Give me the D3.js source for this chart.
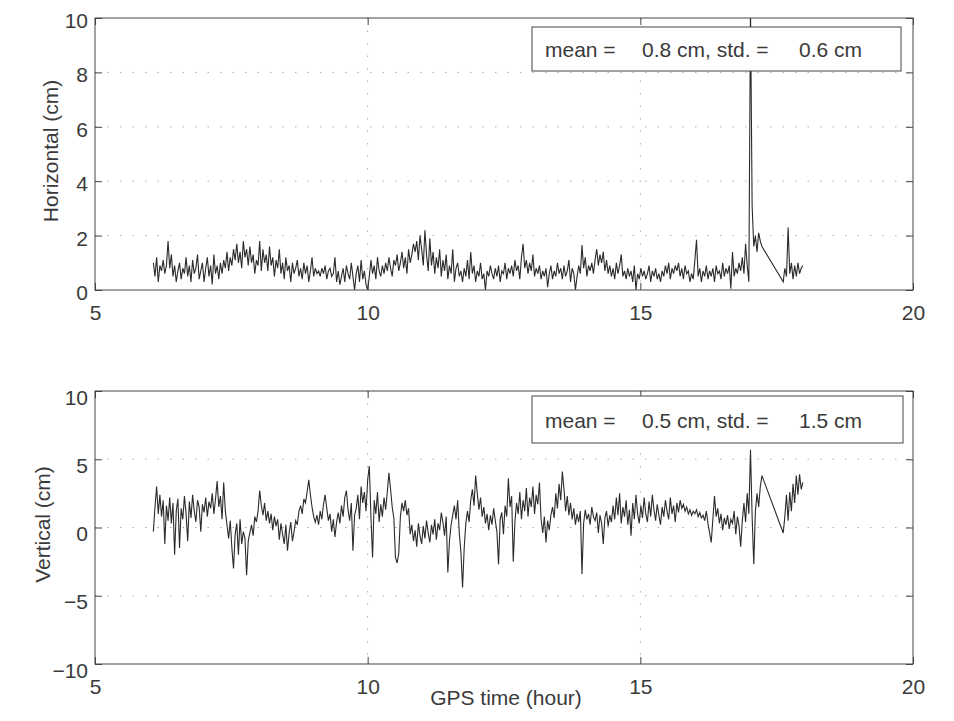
<!DOCTYPE html>
<html>
<head>
<meta charset="utf-8">
<script src="https://cdnjs.cloudflare.com/ajax/libs/d3/7.8.5/d3.min.js"></script>
<style>
body { margin: 0; background: #fff; }
svg text { font-family: "Liberation Sans", Arial, sans-serif; fill: #3a3a3a; }
</style>
</head>
<body>
<div id="chart"></div>
<script>
// sampling of the record (hours)
const hStart = 6.07;
const hStep = 0.03;
const tailStart = 17.62; // record resumes after the gap

// horizontal error (cm)
const horizontal = [
    1.0, 0.5, 1.2, 0.3, 0.9, 0.7, 1.1, 0.6, 0.9, 1.8,
    0.8, 1.3, 0.5, 0.9, 0.3, 0.7, 1.0, 0.4, 0.8, 0.6,
    1.2, 0.5, 0.9, 0.3, 1.1, 0.6, 0.8, 1.3, 0.4, 0.7,
    1.0, 0.3, 0.8, 1.2, 0.5, 0.9, 0.2, 1.3, 0.6, 0.9,
    0.4, 1.0, 0.6, 1.1, 0.8, 1.4, 0.7, 1.2, 0.9, 1.5,
    1.1, 1.7, 1.0, 1.4, 0.8, 1.8, 1.2, 1.5, 0.9, 1.6,
    1.0, 1.3, 0.6, 1.1, 0.9, 1.8, 0.7, 1.5, 1.0, 1.3,
    0.7, 1.6, 0.9, 1.2, 0.5, 1.1, 0.8, 1.5, 0.6, 1.0,
    0.4, 1.2, 0.7, 0.9, 0.3, 1.0, 0.6, 0.8, 1.1, 0.5,
    0.8, 0.4, 1.0, 0.6, 0.9, 0.3, 0.7, 1.2, 0.5, 0.8,
    0.6, 0.7, 0.5, 0.8, 0.6, 0.9, 0.4, 0.7, 0.8, 0.5,
    0.6, 1.2, 0.3, 0.7, 0.2, 0.5, 0.8, 0.3, 0.9, 0.6,
    0.4, 1.0, 0.5, 0.0, 0.6, 0.9, 0.3, 1.1, 0.4, 0.7,
    0.2, 0.0, 0.5, 1.1, 0.6, 0.9, 0.4, 1.2, 0.7, 0.5,
    0.9, 0.6, 1.0, 0.7, 1.2, 0.8, 0.5, 1.1, 0.9, 1.3,
    0.7, 1.0, 1.4, 0.8, 1.2, 0.6, 1.5, 1.0, 1.3, 1.7,
    1.4, 1.8, 1.1, 2.0, 1.5, 0.9, 2.2, 1.3, 0.7, 1.9,
    0.9, 1.4, 0.6, 1.2, 0.8, 1.5, 0.5, 1.1, 0.7, 1.3,
    0.4, 0.9, 0.6, 1.5, 0.3, 0.8, 1.0, 0.5, 0.7, 0.3,
    0.8, 0.5, 1.1, 0.4, 1.4, 0.6, 0.9, 0.3, 0.7, 0.5,
    1.0, 0.4, 0.6, 0.0, 0.7, 0.5, 0.9, 0.6, 0.4, 0.8,
    0.5, 0.9, 0.3, 0.7, 0.6, 1.0, 0.4, 0.8, 0.6, 0.9,
    0.5, 1.1, 0.7, 0.9, 0.4, 1.2, 1.7, 0.8, 1.1, 0.6,
    1.0, 0.7, 1.3, 0.5, 0.8, 0.6, 0.9, 0.4, 0.7, 0.5,
    0.8, 0.1, 0.6, 0.9, 0.4, 0.7, 0.5, 1.0, 0.6, 0.8,
    0.4, 0.9, 0.5, 0.7, 1.1, 0.3, 0.8, 0.6, 0.0, 0.5,
    0.9, 0.6, 1.65, 0.8, 1.2, 0.5, 0.9, 0.7, 1.0, 0.6,
    1.1, 1.5, 0.9, 1.3, 1.0, 1.4, 0.7, 1.1, 0.6, 0.9,
    0.5, 0.8, 0.4, 1.0, 0.6, 0.9, 1.3, 0.5, 0.7, 0.4,
    0.8, 0.5, 0.7, 0.3, 0.9, 0.0, 0.6, 0.4, 0.8, 0.5,
    0.7, 0.4, 0.6, 0.9, 0.3, 0.7, 0.5, 0.8, 0.4, 0.6,
    0.3, 0.7, 0.5, 0.9, 0.6, 1.0, 0.4, 0.8, 0.6, 0.9,
    0.7, 1.0, 0.5, 0.8, 0.4, 0.9, 0.6, 0.7, 0.3, 0.6,
    0.4, 1.1, 1.85, 0.5, 0.8, 0.3, 0.7, 0.5, 0.9, 0.4,
    0.7, 0.5, 0.8, 0.3, 0.9, 0.6, 0.7, 0.4, 1.0, 0.5,
    0.8, 0.6, 0.9, 0.05, 1.4, 0.5, 0.8, 0.6, 1.0, 0.7,
    1.2, 0.6, 1.7, 0.9, 0.3, 10.5, 3.1, 1.6, 2.0, 1.4,
    2.1, 1.8, 1.6
];
const horizontalTail = [0.3, 0.8, 0.5, 2.3, 0.6, 1.0, 0.4, 0.9, 0.5, 1.0, 0.6, 0.8, 0.9];

// vertical error (cm)
const vertical = [
    -0.3, 1.5, 3.0, 1.0, 2.4, 0.8, 2.0, -1.2, 1.6, 0.5,
    2.2, 0.3, 1.8, -2.0, 1.2, 2.1, -1.5, 1.4, 0.6, 2.3,
    1.0, -1.0, 1.9, 0.7, 2.4, 1.2, 0.4, 2.0, 1.5, -0.3,
    1.7, 1.1, 2.2, 0.8, 1.9, 1.4, 2.5, 1.0, 2.1, 3.4,
    1.5, 2.3, 0.6, 3.3, 1.2, 0.2, -0.8, 0.5, -1.5, -3.0,
    -0.5, 0.3, -2.0, 0.6, -1.2, -0.3, -0.8, -3.5, -1.0, -0.4,
    0.2, -0.6, 0.8, 0.4, 1.2, 2.7, 1.6, 0.9, 1.8, 0.5,
    1.2, 0.3, 1.0, -0.2, 0.8, 0.1, 0.6, -0.9, 0.3, -0.5,
    -1.2, 0.2, -1.7, -0.4, 0.4, -1.0, -0.3, 0.5, 0.2, 1.2,
    1.6, 1.0, 2.1, 1.8, 2.6, 3.5, 2.4, 1.5, 0.8, 0.4,
    0.9, 0.2, 1.2, 0.6, 1.7, 2.4, 1.4, 0.5, 1.0, -0.3,
    0.6, -0.7, 0.4, 1.1, 0.3, 1.6, 0.8, 2.2, 2.7, 1.3,
    0.5, 1.8, -1.7, 0.9, 1.4, 2.4, 0.6, 3.0, 1.8, 2.6,
    1.2, 3.5, 4.5, 0.8, -2.2, 2.0, 1.0, 2.6, 0.4, 1.7,
    0.8, 2.2, 1.3, 2.6, 4.0, 2.8, 1.5, 0.7, -2.2, -2.6,
    -1.9, 0.8, 1.8, 1.2, 2.0, 0.9, 1.4, -0.5, 0.2, -1.0,
    -0.2, -1.4, 0.3, -0.6, -1.2, 0.1, -0.8, 0.5, -0.4, -1.1,
    0.2, -0.5, 0.6, -0.9, 0.3, -0.2, 1.1, 0.4, -0.6, 0.8,
    -3.3, -1.0, 0.2, 0.9, 1.6, 0.6, 2.0, -0.4, -1.8, -4.4,
    -1.5, 0.3, 1.2, 0.4, 2.0, 2.8, 1.6, 3.8, 2.5, 1.3,
    2.2, 0.8, 1.5, 0.3, 1.0, -0.2, 0.9, 0.2, 1.4, 0.5,
    -0.3, -2.7, 0.6, 1.1, -0.5, 1.6, 0.8, 3.6, 1.5, 2.3,
    -2.5, 0.4, 1.8, 1.0, 2.6, 0.6, 2.0, 1.2, 2.9, 0.8,
    2.2, 1.5, 3.0, 1.0, 2.4, 1.7, 3.3, 0.6, -0.4, 0.8,
    -1.1, 0.5, -0.2, 0.9, 1.5, 0.7, 2.5, 1.4, 3.2, 2.0,
    4.1, 2.8, 1.2, 2.3, 0.9, 1.8, 0.6, 1.4, 0.2, 1.0,
    0.4, 1.2, -3.4, 0.3, 1.3, 0.6, 1.0, 0.2, 1.5, 0.8,
    0.5, 1.1, -0.4, 0.9, 0.3, -1.2, 0.7, 1.2, 0.1, 0.9,
    0.4, 1.6, 0.6, 2.2, 0.9, 2.5, 0.3, 1.5, 0.8, 2.0,
    0.2, 1.3, -0.6, 1.8, 0.6, 2.4, 1.0, 0.3, 1.6, 0.7,
    2.2, 1.0, 0.4, 1.9, 0.8, 2.4, 1.3, 0.5, 1.7, 0.9,
    0.2, 1.5, 0.8, 2.0, 1.2, 0.6, 2.2, 1.0, 1.6, 0.4,
    1.8, 1.1, 2.0, 1.4, 1.7, 1.2, 1.5, 1.0, 1.3, 0.9,
    1.2, 1.0, 1.3, 0.8, 1.1, 0.7, 0.9, 0.5, 1.2, 0.3,
    -0.4, -1.1, 0.6, 2.3, 0.8, 1.4, 0.3, 1.0, -0.2, 0.7,
    0.2, 0.9, -0.1, 0.6, 0.3, 1.2, -0.5, 0.8, 0.1, -1.4,
    0.5, 1.8, 0.4, 2.5, 1.0, 5.7, 0.8, -2.7, 1.2, 2.5,
    1.5, 3.0, 3.8
];
const verticalTail = [-0.4, 0.8, 2.4, 0.5, 2.6, 1.2, 3.2, 1.8, 3.8, 2.4, 3.9, 2.8, 3.3];

const xTicks = [5, 10, 15, 20];
const hTicks = [0, 2, 4, 6, 8, 10];
const vTicks = [-10, -5, 0, 5, 10];
const means = ['0.8', '0.5'];
const stds = ['0.6', '1.5'];

const width = 954;
const height = 721;
const left = 95, right = 913;
const fontSize = '21px';

const svg = d3.select('#chart')
    .append('svg')
    .attr('width', width)
    .attr('height', height);

const x = d3.scaleLinear()
    .domain([5, 20])
    .range([left, right]);

const toPoints = (main, tail) => main.map((v, i) => [hStart + i * hStep, v])
    .concat(tail.map((v, i) => [tailStart + i * hStep, v]));

const drawPanel = (p) => {
    const y = d3.scaleLinear()
        .domain(p.domain)
        .range([p.bottom, p.top]);

    const g = svg.append('g');

    // sparse dotted grid
    const grid = g.append('g')
        .attr('stroke', '#aaa')
        .attr('stroke-width', 1)
        .attr('stroke-dasharray', '1.5,11');
    grid.selectAll('.gx')
        .data(xTicks.slice(1, -1))
        .enter().append('line')
        .attr('x1', d => x(d)).attr('x2', d => x(d))
        .attr('y1', p.top).attr('y2', p.bottom);
    grid.selectAll('.gy')
        .data(p.ticks.slice(1, -1))
        .enter().append('line')
        .attr('x1', left).attr('x2', right)
        .attr('y1', d => y(d)).attr('y2', d => y(d));

    // data line, clipped to the axes
    g.append('clipPath')
        .attr('id', p.id)
        .append('rect')
        .attr('x', left).attr('y', p.top)
        .attr('width', right - left).attr('height', p.bottom - p.top);

    const line = d3.line()
        .x(d => x(d[0]))
        .y(d => y(d[1]));

    g.append('path')
        .datum(p.data)
        .attr('clip-path', `url(#${p.id})`)
        .attr('fill', 'none')
        .attr('stroke', '#2b2b2b')
        .attr('stroke-width', 1.1)
        .attr('d', line);

    // axes with inward ticks on all four sides
    g.append('g')
        .attr('transform', `translate(0, ${p.bottom})`)
        .call(d3.axisBottom(x).tickValues(xTicks).tickSizeInner(-7).tickSizeOuter(0).tickPadding(15));
    g.append('g')
        .attr('class', 'yax')
        .attr('transform', `translate(${left}, 0)`)
        .call(d3.axisLeft(y).tickValues(p.ticks).tickSizeInner(-7).tickSizeOuter(0).tickPadding(7));
    g.append('g')
        .attr('transform', `translate(0, ${p.top})`)
        .call(d3.axisTop(x).tickValues(xTicks).tickSizeInner(-7).tickSizeOuter(0).tickFormat(''));
    g.append('g')
        .attr('transform', `translate(${right}, 0)`)
        .call(d3.axisRight(y).tickValues(p.ticks).tickSizeInner(-7).tickSizeOuter(0).tickFormat(''));

    g.selectAll('.domain').remove();
    g.selectAll('.tick line').attr('stroke', '#444');
    g.selectAll('.tick text')
        .attr('font-size', fontSize)
        .attr('fill', '#3a3a3a');
    g.selectAll('.yax .tick text').attr('dy', p.labelDy);

    g.append('rect')
        .attr('x', left).attr('y', p.top)
        .attr('width', right - left).attr('height', p.bottom - p.top)
        .attr('fill', 'none')
        .attr('stroke', '#444')
        .attr('stroke-width', 1);

    // y label
    g.append('text')
        .attr('transform', `translate(${p.labelX}, ${(p.top + p.bottom) / 2 - 3}) rotate(-90)`)
        .attr('text-anchor', 'middle')
        .attr('font-size', fontSize)
        .text(p.label);

    // stats box
    const box = g.append('g')
        .attr('transform', `translate(${p.boxX}, ${p.boxY})`);
    box.append('rect')
        .attr('width', p.boxW).attr('height', p.boxH)
        .attr('fill', '#fff')
        .attr('stroke', '#444')
        .attr('stroke-width', 1);
    const by = p.boxH / 2 + 8;
    box.append('text').attr('x', 13).attr('y', by).attr('font-size', fontSize).text('mean =');
    box.append('text').attr('x', 110).attr('y', by).attr('font-size', fontSize).text(`${p.mean} cm, std. =`);
    box.append('text').attr('x', 267).attr('y', by).attr('font-size', fontSize).text(`${p.std} cm`);
};

drawPanel({
    id: 'clipH', top: 18, bottom: 290, domain: [0, 10], ticks: hTicks,
    data: toPoints(horizontal, horizontalTail),
    label: 'Horizontal (cm)', labelX: 58, labelDy: '0.45em',
    boxX: 532, boxY: 27, boxW: 369, boxH: 44,
    mean: means[0], std: stds[0]
});

drawPanel({
    id: 'clipV', top: 391, bottom: 664, domain: [-10, 10], ticks: vTicks,
    data: toPoints(vertical, verticalTail),
    label: 'Vertical (cm)', labelX: 50, labelDy: '0.62em',
    boxX: 532, boxY: 396, boxW: 371, boxH: 47,
    mean: means[1], std: stds[1]
});

svg.append('text')
    .attr('x', 506)
    .attr('y', 705)
    .attr('text-anchor', 'middle')
    .attr('font-size', fontSize)
    .text('GPS time (hour)');
</script>
</body>
</html>
